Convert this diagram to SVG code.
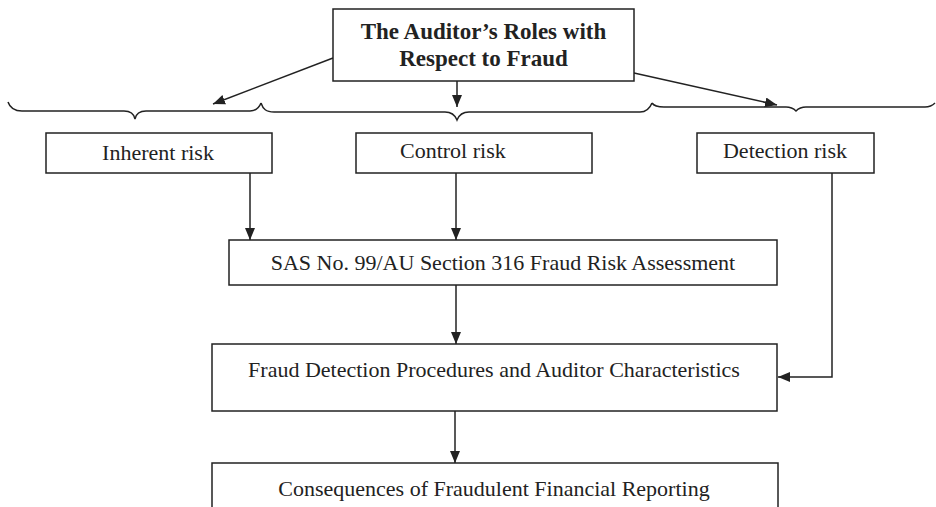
<svg xmlns="http://www.w3.org/2000/svg" width="936" height="507" viewBox="0 0 936 507">
<style>
.box{fill:#fff;stroke:#222;stroke-width:1.5}
.t{font-family:"Liberation Serif","Times New Roman",serif;font-size:22px;fill:#222}
.tb{font-family:"Liberation Serif","Times New Roman",serif;font-size:23px;font-weight:bold;fill:#222}
.c{fill:none;stroke:#222;stroke-width:1.5}
</style>
<defs>
<marker id="ah" markerUnits="userSpaceOnUse" markerWidth="13" markerHeight="11" refX="12" refY="5" orient="auto">
<path d="M0,0 L12,5 L0,10 z" fill="#222"/>
</marker>
</defs>
<rect width="936" height="507" fill="#fff"/>
<g id="connectors">
<path class="c" d="M8,102 C10,108 14,111 22,111 L124,111 C130,111 134,114 135,119 C136,114 140,111 146,111 L250,111 C256,111 259,108 261,103"/>
<path class="c" d="M261,103 C263,109 266,112 274,112 L445,112 C451,112 455,115 457,120 C459,115 463,112 469,112 L640,112 C646,112 650,108 652,103"/>
<path class="c" d="M652,103 C654,106 657,107 664,107 L786,107 C791,107 794,109 796,111 C798,109 801,107 806,107 L925,107 C930,107 933,105 935,103"/>
<line class="c" x1="333" y1="58" x2="213" y2="104" marker-end="url(#ah)"/>
<line class="c" x1="457" y1="81" x2="457" y2="107" marker-end="url(#ah)"/>
<line class="c" x1="634" y1="73" x2="777" y2="105" marker-end="url(#ah)"/>
<line class="c" x1="250" y1="173" x2="250" y2="240" marker-end="url(#ah)"/>
<line class="c" x1="456" y1="173" x2="456" y2="240" marker-end="url(#ah)"/>
<line class="c" x1="456" y1="285" x2="456" y2="344" marker-end="url(#ah)"/>
<polyline class="c" points="832,173 832,377 778,377" marker-end="url(#ah)"/>
<line class="c" x1="455" y1="411" x2="455" y2="463" marker-end="url(#ah)"/>
</g>
<g id="title">
<rect class="box" x="333" y="9" width="301" height="72"/>
<text class="tb" x="483.5" y="39" text-anchor="middle">The Auditor’s Roles with</text>
<text class="tb" x="483.5" y="66" text-anchor="middle">Respect to Fraud</text>
</g>
<g id="inherent">
<rect class="box" x="46" y="133" width="226" height="40"/>
<text class="t" x="158" y="160" text-anchor="middle">Inherent risk</text>
</g>
<g id="control">
<rect class="box" x="356" y="133" width="236" height="40"/>
<text class="t" x="400" y="158">Control risk</text>
</g>
<g id="detection">
<rect class="box" x="697" y="133" width="177" height="40"/>
<text class="t" x="785" y="158" text-anchor="middle">Detection risk</text>
</g>
<g id="sas">
<rect class="box" x="229" y="240" width="548" height="45"/>
<text class="t" x="503" y="270" text-anchor="middle">SAS No. 99/AU Section 316 Fraud Risk Assessment</text>
</g>
<g id="fraud">
<rect class="box" x="212" y="344" width="565" height="67"/>
<text class="t" x="494" y="377" text-anchor="middle">Fraud Detection Procedures and Auditor Characteristics</text>
</g>
<g id="consequences">
<rect class="box" x="212" y="463" width="566" height="50"/>
<text class="t" x="494" y="496" text-anchor="middle">Consequences of Fraudulent Financial Reporting</text>
</g>
</svg>
